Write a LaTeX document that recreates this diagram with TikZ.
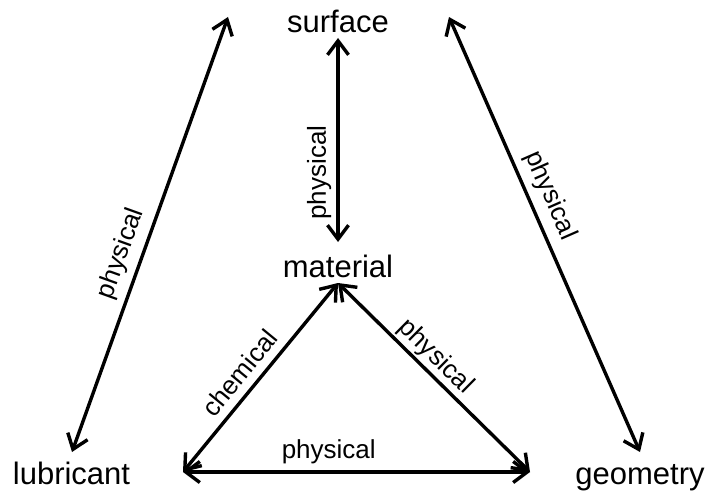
\documentclass[tikz,border=0pt]{standalone}
\usepackage{fontspec}
\setmainfont{Liberation Sans}
\usetikzlibrary{arrows.meta}
\begin{document}
\begin{tikzpicture}[x=1pt,y=-1pt,
  term/.style={inner sep=0pt,anchor=base,font=\fontsize{31}{37}\selectfont},
  rel/.style={line width=3.4pt,{Straight Barb[length=14pt,width=21pt]}-{Straight Barb[length=14pt,width=21pt]}},
  lab/.style={inner sep=0pt,sloped,font=\fontsize{26}{31}\selectfont}]
\useasboundingbox (0,0) rectangle (712,497);
\node[term] (surface) at (338,33) {surface};
\node[term] (material) at (338,277) {material};
\node[term] (lubricant) at (71.5,484) {lubricant};
\node[term] (geometry) at (640,484) {geometry};
\coordinate (sL) at (228,17);
\coordinate (sR) at (449,17);
\coordinate (sB) at (338,38);
\coordinate (mT) at (338,242);
\coordinate (mB) at (338,283);
\coordinate (lT) at (72,452);
\coordinate (lR) at (183,472);
\coordinate (gT) at (640,452);
\coordinate (gL) at (530,472);
\draw[rel] (lT) -- node[lab,pos=0.44,above=7pt] {physical} (sL);
\draw[rel] (sR) -- node[lab,pos=0.43,above=7pt] {physical} (gT);
\draw[rel] (mT) -- node[lab,pos=0.34,above=5pt] {physical} (sB);
\draw[rel] (lR) -- node[lab,pos=0.46,above=8pt] {chemical} (mB);
\draw[rel] (mB) -- node[lab,pos=0.45,above=2pt] {physical} (gL);
\draw[rel] (lR) -- node[lab,pos=0.42,above=6pt] {physical} (gL);
\end{tikzpicture}
\end{document}
